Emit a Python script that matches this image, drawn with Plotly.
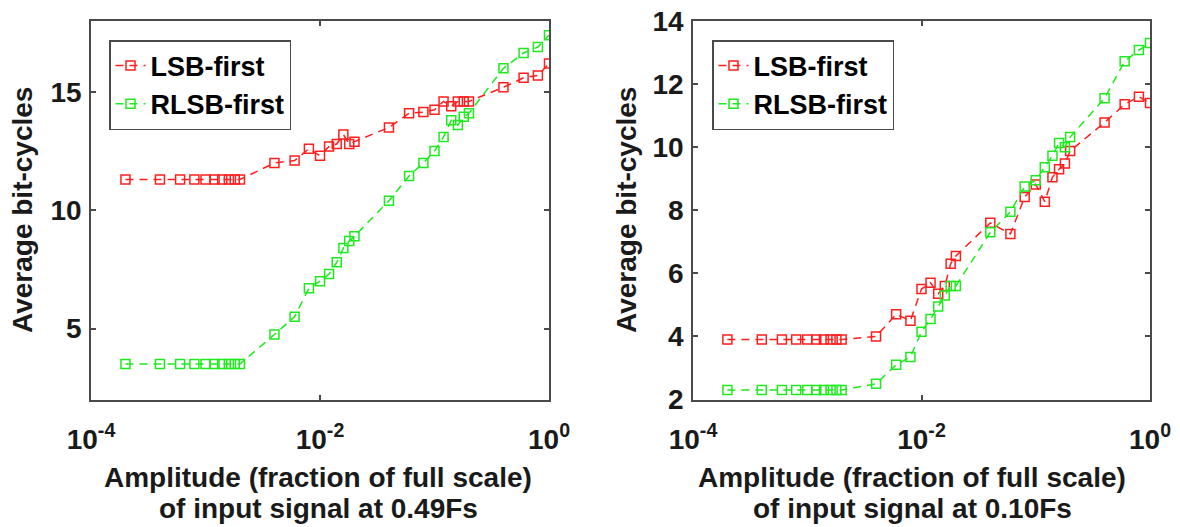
import plotly.graph_objects as go

# ---------------- data ----------------
amplitude = [2e-4, 4e-4, 6e-4, 8e-4, 1e-3, 1.2e-3, 1.4e-3, 1.6e-3, 1.8e-3, 2e-3,
             4e-3, 6e-3, 8e-3, 1e-2, 1.2e-2, 1.4e-2, 1.6e-2, 1.8e-2, 2e-2,
             4e-2, 6e-2, 8e-2, 0.1, 0.12, 0.14, 0.16, 0.18, 0.2,
             0.4, 0.6, 0.8, 1.0]

# input at 0.49Fs
lsb_049 = [11.3, 11.3, 11.3, 11.3, 11.3, 11.3, 11.3, 11.3, 11.3, 11.3,
           12.0, 12.1, 12.6, 12.3, 12.7, 12.8, 13.2, 12.8, 12.9,
           13.5, 14.1, 14.15, 14.25, 14.6, 14.4, 14.6, 14.6, 14.6,
           15.2, 15.6, 15.7, 16.2]
rlsb_049 = [3.5, 3.5, 3.5, 3.5, 3.5, 3.5, 3.5, 3.5, 3.5, 3.5,
            4.75, 5.5, 6.7, 7.0, 7.3, 7.8, 8.4, 8.7, 8.9,
            10.4, 11.45, 12.0, 12.5, 13.1, 13.8, 13.6, 13.95, 14.1,
            16.0, 16.65, 16.9, 17.4]

# input at 0.10Fs
lsb_010 = [3.9, 3.9, 3.9, 3.9, 3.9, 3.9, 3.9, 3.9, 3.9, 3.9,
           4.0, 4.7, 4.5, 5.5, 5.7, 5.35, 5.6, 6.3, 6.55,
           7.6, 7.25, 8.42, 8.82, 8.27, 9.05, 9.3, 9.48, 9.88,
           10.78, 11.36, 11.6, 11.4]
rlsb_010 = [2.3, 2.3, 2.3, 2.3, 2.3, 2.3, 2.3, 2.3, 2.3, 2.3,
            2.5, 3.1, 3.35, 4.15, 4.55, 4.95, 5.3, 5.6, 5.6,
            7.3, 7.95, 8.75, 8.95, 9.36, 9.73, 10.13, 10.0, 10.32,
            11.55, 12.72, 13.08, 13.3]

series_names = ["LSB-first", "RLSB-first"]
x_tickvals = [1e-4, 1e-2, 1]
x_ticktext = ["10<sup>-4</sup>", "10<sup>-2</sup>", "10<sup>0</sup>"]
y1_ticks = [5, 10, 15]
y2_ticks = [2, 4, 6, 8, 10, 12, 14]
xtitle_line1 = "Amplitude (fraction of full scale)"
xtitle_line2 = ["of input signal at 0.49Fs", "of input signal at 0.10Fs"]
ytitle = "Average bit-cycles"

# ---------------- style ----------------
PAGE_W, PAGE_H = 1180, 527
OFF = 8  # default page body margin
W, H = PAGE_W - OFF, PAGE_H - OFF
RED = "#ff1e1e"
GREEN = "#1eea1e"
AXC = "#4a4a4a"
TXT = "#1a1a1a"
FONT = "Liberation Sans, Arial, sans-serif"
FS = 28
DASH = "8px,6px"

def px_x(p):
    return (p - OFF) / W

def px_y(p):
    return 1 - (p - OFF) / H

fig = go.Figure()

def add_pair(xa, ya, y_lsb, y_rlsb, legend):
    for name, yy, col in [(series_names[0], y_lsb, RED), (series_names[1], y_rlsb, GREEN)]:
        fig.add_trace(go.Scatter(
            x=amplitude, y=yy, name=name, xaxis=xa, yaxis=ya, legend=legend,
            mode="lines+markers",
            line=dict(color=col, width=1.5, dash=DASH),
            marker=dict(symbol="square-open", size=9, color=col, line=dict(width=1.5, color=col)),
        ))

add_pair("x", "y", lsb_049, rlsb_049, "legend")
add_pair("x2", "y2", lsb_010, rlsb_010, "legend2")

top, bottom = 21, 399.5
common_x = dict(type="log", range=[-4, 0], tickvals=x_tickvals, ticktext=x_ticktext,
                showgrid=False, zeroline=False, showline=True, linecolor=AXC, linewidth=1.5,
                mirror="ticks", ticks="inside", ticklen=5, tickcolor=AXC, tickwidth=1.5,
                tickfont=dict(family=FONT, size=FS, color=TXT, weight="bold"),
                ticklabelstandoff=14, automargin=False, ticklabeloverflow="allow")
common_y = dict(showgrid=False, zeroline=False, showline=True, linecolor=AXC, linewidth=1.5,
                mirror="ticks", ticks="inside", ticklen=5, tickcolor=AXC, tickwidth=1.5,
                tickfont=dict(family=FONT, size=FS, color=TXT, weight="bold"),
                ticklabelstandoff=2, automargin=False, ticklabeloverflow="allow")

leg_common = dict(xanchor="left", yanchor="top",
                  bgcolor="white", bordercolor=AXC, borderwidth=1.5,
                  font=dict(family=FONT, size=27, color="black", weight="bold"),
                  tracegroupgap=0, itemwidth=30)

fig.update_layout(
    width=W, height=H,
    margin=dict(l=0, r=0, t=0, b=0, pad=0, autoexpand=False),
    paper_bgcolor="white", plot_bgcolor="white",
    xaxis=dict(domain=[px_x(91), px_x(549)], anchor="y", **common_x),
    yaxis=dict(domain=[px_y(bottom), px_y(top)], anchor="x", range=[2, 18],
               tickvals=y1_ticks, **common_y),
    xaxis2=dict(domain=[px_x(693), px_x(1150)], anchor="y2", **common_x),
    yaxis2=dict(domain=[px_y(bottom), px_y(top)], anchor="x2", range=[2, 14],
                tickvals=y2_ticks, **common_y),
    legend=dict(x=px_x(109), y=px_y(40), **leg_common),
    legend2=dict(x=px_x(712), y=px_y(40), **leg_common),
    showlegend=True,
)

annos = []
for cx, ycx, line2 in [(318, 22, xtitle_line2[0]), (912, 626, xtitle_line2[1])]:
    annos.append(dict(x=px_x(cx), y=px_y(477), xref="paper", yref="paper", text=xtitle_line1,
                      showarrow=False, xanchor="center", yanchor="middle",
                      font=dict(family=FONT, size=FS, color=TXT, weight="bold")))
    annos.append(dict(x=px_x(cx), y=px_y(508), xref="paper", yref="paper", text=line2,
                      showarrow=False, xanchor="center", yanchor="middle",
                      font=dict(family=FONT, size=FS, color=TXT, weight="bold")))
    annos.append(dict(x=px_x(ycx), y=px_y(210), xref="paper", yref="paper", text=ytitle,
                      showarrow=False, xanchor="center", yanchor="middle", textangle=-90,
                      font=dict(family=FONT, size=FS, color=TXT, weight="bold")))
fig.update_layout(annotations=annos)

fig.write_html("out.html")
